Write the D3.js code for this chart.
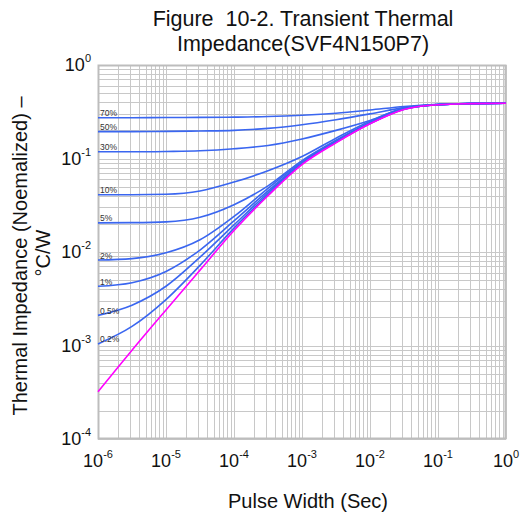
<!DOCTYPE html>
<html><head><meta charset="utf-8">
<script src="https://cdn.jsdelivr.net/npm/d3@7"></script>
<style>body{margin:0;background:#fff}svg{display:block}text{font-family:"Liberation Sans",Arial,sans-serif;fill:#111}</style>
</head><body><svg id="c" width="526" height="517"></svg>
<script>
// ---- data ----
const logT = [-6,-5.5,-5,-4.5,-4,-3.5,-3,-2.5,-2,-1.5,-1,-0.5,0];
const xTickExps = [-6,-5,-4,-3,-2,-1,0];
const yTickExps = [0,-1,-2,-3,-4];
const dutyLabels = ["70%","50%","30%","10%","5%","2%","1%","0.5%","0.2%"];
const d70  = [0.273,0.273,0.274,0.275,0.277,0.281,0.29,0.305,0.33,0.36,0.38,0.388,0.39];
const d50  = [0.194,0.194,0.195,0.197,0.2,0.21,0.23,0.26,0.3,0.35,0.378,0.387,0.39];
const d30  = [0.118,0.118,0.119,0.121,0.127,0.138,0.162,0.2,0.255,0.345,0.377,0.387,0.39];
const d10  = [0.041,0.041,0.0415,0.045,0.056,0.074,0.105,0.165,0.25,0.345,0.377,0.387,0.39];
const d5   = [0.0205,0.0206,0.021,0.0235,0.032,0.051,0.095,0.157,0.243,0.342,0.377,0.387,0.39];
const d2   = [0.0082,0.0085,0.0098,0.0135,0.024,0.048,0.092,0.153,0.24,0.34,0.376,0.386,0.39];
const d1   = [0.0043,0.0047,0.0062,0.0105,0.0215,0.045,0.09,0.151,0.238,0.338,0.376,0.386,0.39];
const d05  = [0.0021,0.0027,0.0043,0.0088,0.0195,0.043,0.089,0.15,0.237,0.337,0.376,0.386,0.39];
const d02  = [0.00104,0.0016,0.0031,0.0072,0.018,0.041,0.088,0.149,0.236,0.336,0.376,0.386,0.39];
const single = [0.00032,0.00089,0.0024,0.0064,0.017,0.04,0.086,0.147,0.235,0.335,0.376,0.386,0.39];
const dutySeries = [d70,d50,d30,d10,d5,d2,d1,d05,d02];

// ---- layout ----
const svg = d3.select("#c");
const L=98, R=506, T=65, B=439;
const x = d3.scaleLog().domain([1e-6,1]).range([L,R]);
const y = d3.scaleLog().domain([1e-4,1]).range([B,T]);

// grid
const g = svg.append("g");
const xs=[], ys=[];
for (let e=-6;e<0;e++) for (let k=1;k<10;k++) xs.push(k*Math.pow(10,e));
xs.push(1);
for (let e=-4;e<0;e++) for (let k=1;k<10;k++) ys.push(k*Math.pow(10,e));
ys.push(1);
g.selectAll("line.vx").data(xs).join("line")
 .attr("x1",d=>Math.round(x(d))+0.5).attr("x2",d=>Math.round(x(d))+0.5)
 .attr("y1",T).attr("y2",B).attr("stroke","#c8c8c8").attr("stroke-width",1);
g.selectAll("line.hy").data(ys).join("line")
 .attr("y1",d=>Math.round(y(d))+0.5).attr("y2",d=>Math.round(y(d))+0.5)
 .attr("x1",L).attr("x2",R).attr("stroke","#c8c8c8").attr("stroke-width",1);
svg.append("rect").attr("x",L+0.5).attr("y",T+0.5).attr("width",R-L-1).attr("height",B-T-1)
 .attr("fill","none").attr("stroke","#bdbdbd").attr("stroke-width",2);

// curves
const line = d3.line().x((d,i)=>x(Math.pow(10,logT[i]))).y(d=>y(d)).curve(d3.curveMonotoneX);
svg.append("g").selectAll("path").data(dutySeries).join("path")
 .attr("d",line).attr("fill","none").attr("stroke","#3a66f0").attr("stroke-width",1.6);
svg.append("path").attr("d",line(single)).attr("fill","none").attr("stroke","#ff00ff").attr("stroke-width",1.6);

// duty labels
svg.append("g").selectAll("text").data(dutySeries).join("text")
 .attr("x",L+2).attr("y",d=>y(d[0])-1.5).attr("font-size",8.5).text((d,i)=>dutyLabels[i]).style("fill","#333");

// tick labels
const xt = svg.append("g").selectAll("text").data(xTickExps).join("text")
 .attr("x",d=>x(Math.pow(10,d))).attr("y",467).attr("text-anchor","middle").attr("font-size",18);
xt.append("tspan").text("10");
xt.append("tspan").attr("dy",-9).attr("font-size",11).text(d=>d);
const yt = svg.append("g").selectAll("text").data(yTickExps).join("text")
 .attr("x",91).attr("y",d=>y(Math.pow(10,d))+6).attr("text-anchor","end").attr("font-size",18);
yt.append("tspan").text("10");
yt.append("tspan").attr("dy",-9).attr("font-size",11).text(d=>d);

// title
svg.append("text").attr("x",303).attr("y",26).attr("text-anchor","middle").attr("font-size",21.5)
 .style("white-space","pre").text("Figure  10-2. Transient Thermal");
svg.append("text").attr("x",303).attr("y",51).attr("text-anchor","middle").attr("font-size",21.5).text("Impedance(SVF4N150P7)");
// axis titles
svg.append("text").attr("x",308).attr("y",508).attr("text-anchor","middle").attr("font-size",20).text("Pulse Width (Sec)");
svg.append("text").attr("transform","translate(27,256) rotate(-90)").attr("text-anchor","middle").attr("font-size",20).text("Thermal Impedance (Noemalized) –");
svg.append("text").attr("transform","translate(50,253) rotate(-90)").attr("text-anchor","middle").attr("font-size",20).text("°C/W");
</script></body></html>
